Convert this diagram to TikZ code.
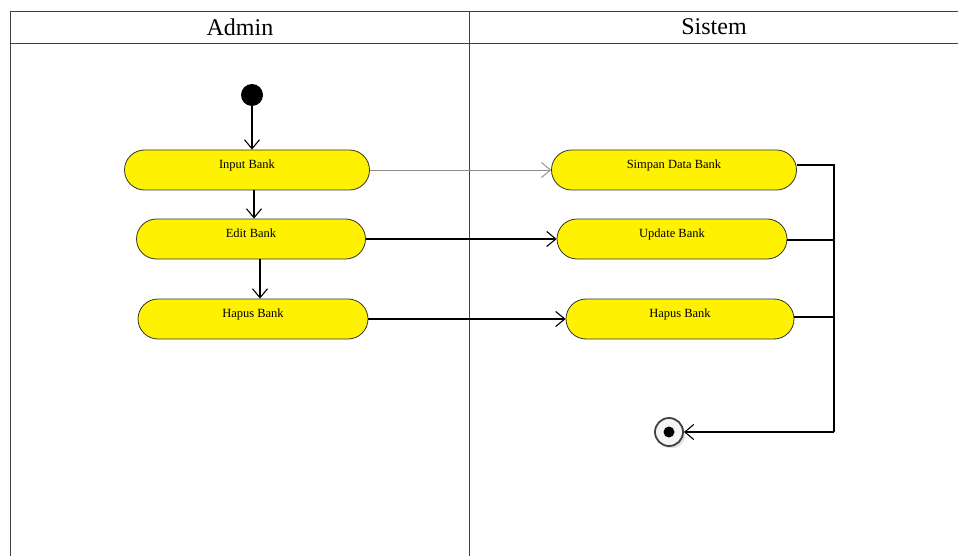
\documentclass[tikz,border=0pt]{standalone}
\usepackage{fontspec}
\setmainfont{Liberation Serif}
\usetikzlibrary{shapes.misc,arrows.meta,shadows}

\begin{document}
\begin{tikzpicture}[x=1pt, y=-1pt,
        act/.style={rounded rectangle, draw=black!80, line width=0.8pt, fill=yellow,
            minimum height=40pt, inner sep=0pt, font=\fontsize{12.5}{14}\selectfont,
            text height=9pt, text depth=12pt},
        startnode/.style={circle, fill=black, minimum size=22pt, inner sep=0pt},
        endnode/.style={circle, draw=black!75, line width=1.8pt, fill=gray!8,
            minimum size=28pt, inner sep=0pt, drop shadow={opacity=0.25}},
        enddot/.style={circle, fill=black, minimum size=11pt, inner sep=0pt},
        arrow/.style={-{Straight Barb[length=9pt,width=15pt]}, line width=1.1pt},
        lane/.style={line width=0.9pt, draw=black!75},
        head/.style={font=\fontsize{24}{26}\selectfont}
    ]
    \useasboundingbox (0,0) rectangle (958,556);

    % Swimlanes
    \draw[lane] (10,11) -- (958,11);
    \draw[lane] (10,43) -- (958,43);
    \draw[lane] (10,11) -- (10,556);
    \draw[lane] (469,11) -- (469,556);
    \node[head] (admin) at (240,27) {Admin};
    \node[head] (sistem) at (714,27) {Sistem};

    % Admin lane
    \node[startnode] (start) at (252,95) {};
    \node[act, minimum width=245pt] (input) at (247,170) {Input Bank};
    \node[act, minimum width=229pt] (edit) at (251,239) {Edit Bank};
    \node[act, minimum width=230pt] (hapus) at (253,319) {Hapus Bank};

    % Sistem lane
    \node[act, minimum width=245pt] (simpan) at (674,170) {Simpan Data Bank};
    \node[act, minimum width=230pt] (update) at (672,239) {Update Bank};
    \node[act, minimum width=228pt] (hapussys) at (680,319) {Hapus Bank};
    \node[endnode] (end) at (669,432) {};
    \node[enddot] (enddot) at (end) {};
    \coordinate (join) at (834,432);

    % Arrows
    \draw[arrow] (start) -- (input.north -| start);
    \draw[arrow] ([xshift=7pt]input.south) -- ([xshift=3pt]edit.north);
    \draw[arrow] ([xshift=9pt]edit.south) -- ([xshift=7pt]hapus.north);
    \draw[arrow, draw=black!45, line width=0.9pt] (input.east) -- (simpan.west);
    \draw[arrow] (edit.east) -- (update.west);
    \draw[arrow] (hapus.east) -- (hapussys.west);

    % Merge to end
    \draw[line width=1.1pt] ([yshift=5pt]simpan.east) -| (join);
    \draw[line width=1.1pt] ([yshift=-1pt]update.east) -- ([yshift=-1pt]update.east -| join);
    \draw[line width=1.1pt] ([yshift=2pt]hapussys.east) -- ([yshift=2pt]hapussys.east -| join);
    \draw[arrow] (join) -- (end);

\end{tikzpicture}
\end{document}
